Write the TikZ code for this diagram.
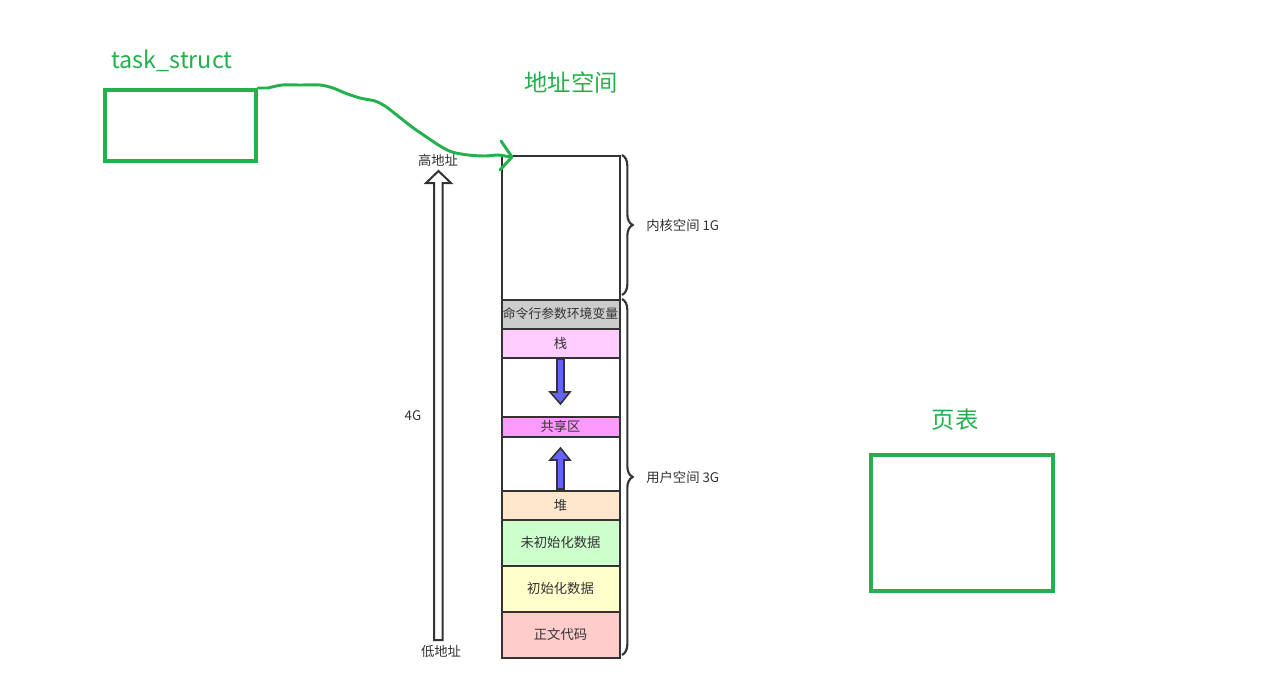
\documentclass[tikz,border=0pt]{standalone}
\usepackage{fontspec}
\setmainfont{Noto Sans CJK SC}
\usetikzlibrary{decorations.pathreplacing}
\definecolor{pgreen}{HTML}{22B14C}
\definecolor{dline}{HTML}{333333}
\definecolor{cgray}{HTML}{CCCCCC}
\definecolor{cstack}{HTML}{FFCCFF}
\definecolor{cshare}{HTML}{FF99FF}
\definecolor{cheap}{HTML}{FFE6CC}
\definecolor{cbss}{HTML}{CCFFCC}
\definecolor{cdata}{HTML}{FFFFCC}
\definecolor{ctext}{HTML}{FFCCCC}
\definecolor{cblue}{HTML}{6464F8}
\begin{document}
\begin{tikzpicture}[x=0.75pt,y=-0.75pt,
  title/.style={text=pgreen,font=\fontsize{17.5}{20}\selectfont,inner sep=0pt},
  gbox/.style={draw=pgreen,line width=3pt,inner sep=0pt,anchor=north west},
  seg/.style={draw=dline,line width=1.5pt,inner sep=0pt,anchor=north west,
    minimum width={118*0.75pt},font=\fontsize{10}{11}\selectfont,text=dline},
  lbl/.style={text=dline,font=\fontsize{10}{11}\selectfont,inner sep=0pt},
  brc/.style={draw=dline,line width=1.6pt,decorate,decoration={brace,amplitude=8pt}},
  barrow/.style={draw=dline,line width=1.2pt,fill=cblue,line join=miter},
  gline/.style={draw=pgreen,line width=2.2pt,line cap=round,line join=round}]
\useasboundingbox (0,0) rectangle (1261,700);
% titles
\node[title] (tst) at (172,61) {task\_struct};
\node[title] (ast) at (571,83) {地址空间};
\node[title] (ptt) at (955,420) {页表};
% green boxes
\node[gbox,minimum width={151*0.75pt},minimum height={71*0.75pt}] (ts) at (103,88) {};
\node[gbox,minimum width={182*0.75pt},minimum height={136*0.75pt}] (pt) at (869,453) {};
% address space column
\node[seg,minimum height={144*0.75pt}] (kern) at (500.5,154.5) {};
\node[seg,fill=cgray,minimum height={29*0.75pt},font=\fontsize{9.6}{11}\selectfont] (cmd) at (500.5,298.5) {命令行参数环境变量};
\node[seg,fill=cstack,minimum height={29*0.75pt}] (stk) at (500.5,327.5) {栈};
\node[seg,minimum height={59*0.75pt}] (gap1) at (500.5,356.5) {};
\node[seg,fill=cshare,minimum height={20*0.75pt}] (shr) at (500.5,415.5) {共享区};
\node[seg,minimum height={54*0.75pt}] (gap2) at (500.5,435.5) {};
\node[seg,fill=cheap,minimum height={29*0.75pt}] (heap) at (500.5,489.5) {堆};
\node[seg,fill=cbss,minimum height={46*0.75pt}] (bss) at (500.5,518.5) {未初始化数据};
\node[seg,fill=cdata,minimum height={46*0.75pt}] (dat) at (500.5,564.5) {初始化数据};
\node[seg,fill=ctext,minimum height={46*0.75pt}] (txt) at (500.5,610.5) {正文代码};
% blue arrows
\draw[barrow] (557,359) -- (564,359) -- (564,392) -- (570,392) -- (560.5,404) -- (550,392) -- (557,392) -- cycle;
\draw[barrow] (557,489) -- (564,489) -- (564,460) -- (570,460) -- (560.5,448) -- (550,460) -- (557,460) -- cycle;
% big hollow arrow
\draw[draw=dline,line width=1.5pt,fill=white,line join=miter]
  (434,640) -- (442.5,640) -- (442.5,183) -- (451,183) -- (438.5,171) -- (426,183) -- (434,183) -- cycle;
\node[lbl] (hi) at (438,160) {高地址};
\node[lbl] (lo) at (441,651) {低地址};
\node[lbl] (g4) at (413,416) {4G};
% braces
\draw[brc] (622,155) -- (622,295);
\draw[brc] (622,299) -- (622,655);
\node[lbl,anchor=west] (kl) at (646,225) {内核空间 1G};
\node[lbl,anchor=west] (ul) at (646,477) {用户空间 3G};
% hand-drawn green pointer
\coordinate (tip) at (512,157);
\draw[gline] (ts.north east) -- plot[smooth,tension=0.5] coordinates
  {(268,88) (282,85) (300,85) (320,85) (333,88) (345,93) (360,98) (375,101) (385,106) (398,116) (412,127) (425,136) (440,146) (452,152) (468,155) (485,156) (498,155) (510,157)};
\draw[gline] (501,141) -- (tip) -- (500,170);
\end{tikzpicture}
\end{document}
